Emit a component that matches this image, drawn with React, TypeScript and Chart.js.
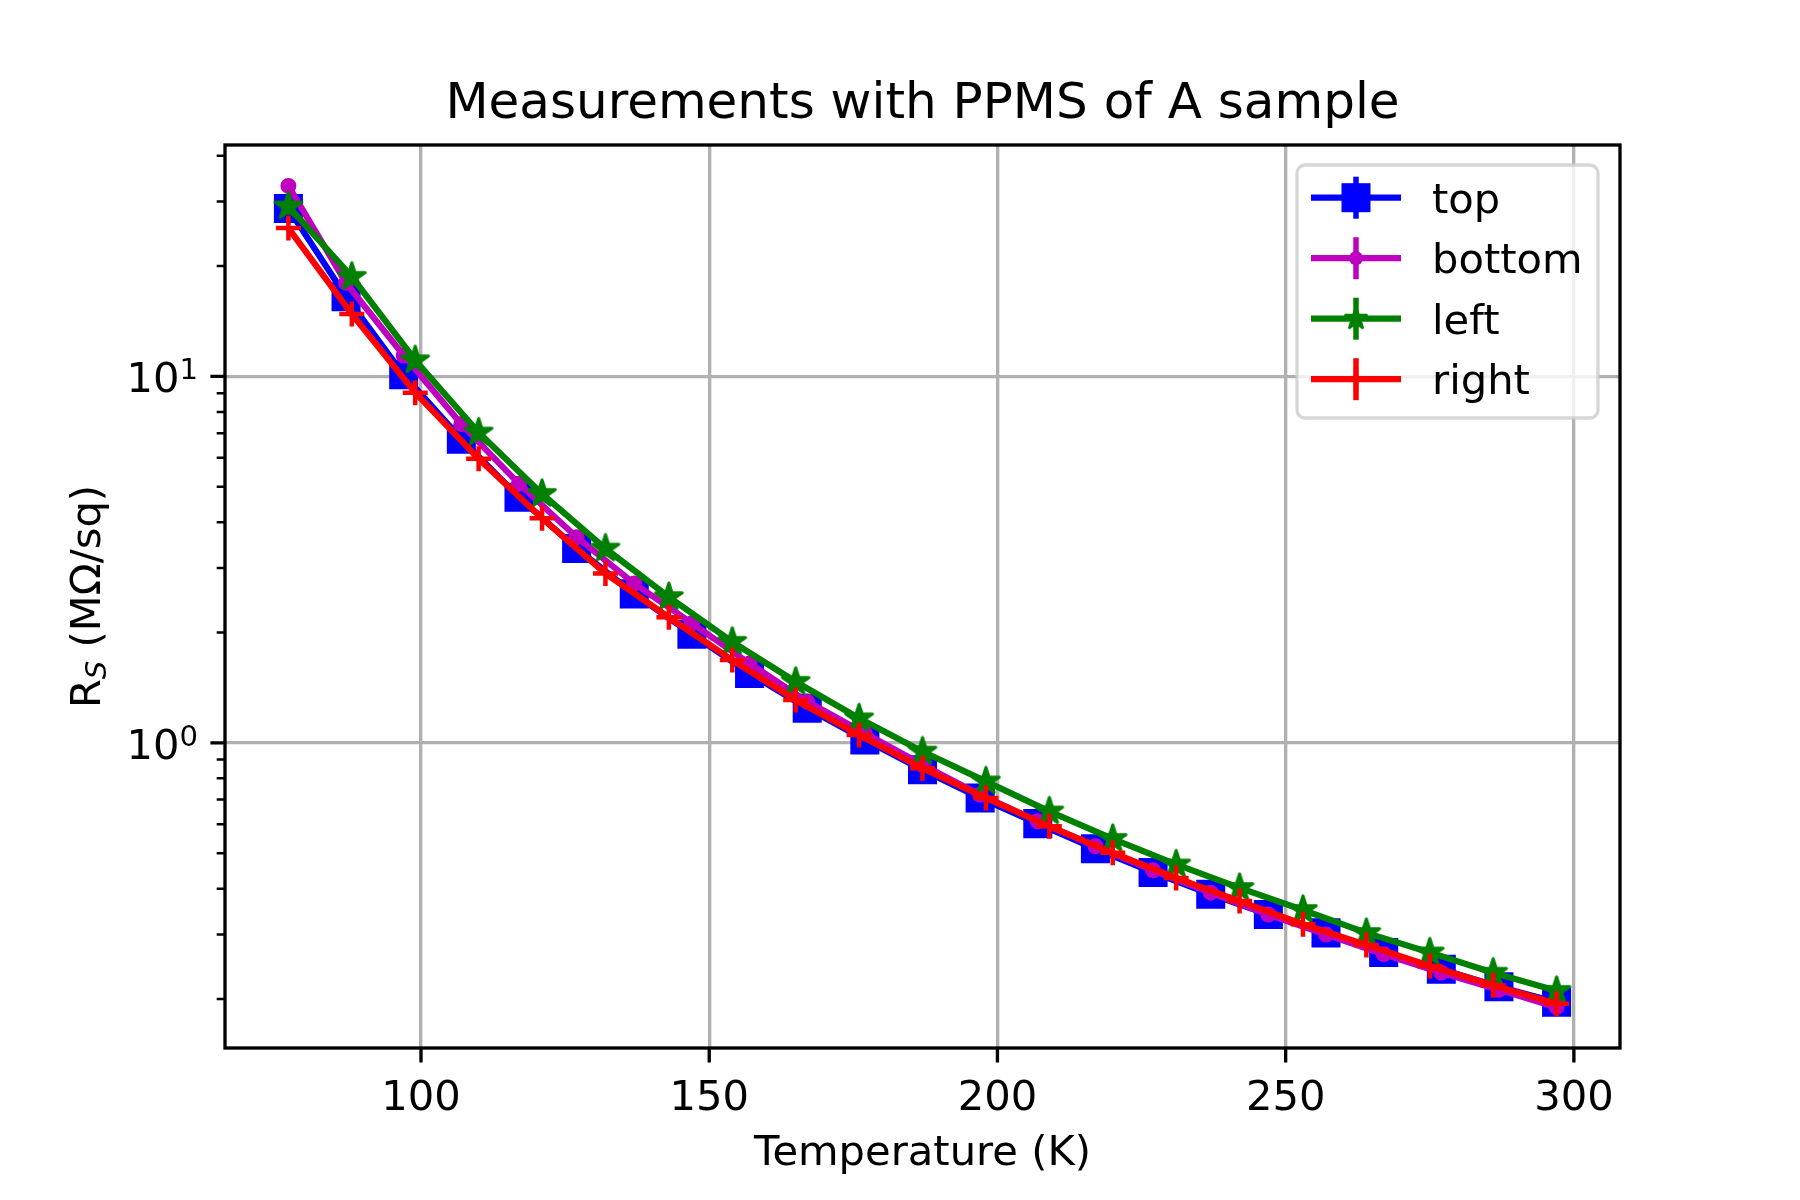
import React, { useEffect, useRef } from 'react';
import { Chart, registerables } from 'chart.js';

Chart.register(...registerables);

// ---- data ----
const TEMP_TB = [77, 87, 97, 107, 117, 127, 137, 147, 157, 167, 177, 187, 197, 207, 217, 227, 237, 247, 257, 267, 277, 287, 297];
const R_TOP = [28.7, 16.5, 10.1, 6.74, 4.68, 3.39, 2.55, 1.98, 1.547, 1.243, 1.019, 0.844, 0.707, 0.602, 0.514, 0.443, 0.386, 0.340, 0.303, 0.268, 0.241, 0.216, 0.196];
const R_BOTTOM = [33.1, 18.0, 11.4, 7.41, 5.09, 3.64, 2.72, 2.12, 1.647, 1.296, 1.063, 0.871, 0.722, 0.611, 0.522, 0.449, 0.390, 0.340, 0.300, 0.265, 0.236, 0.212, 0.190];
const TEMP_LR = [77, 88, 99, 110, 121, 132, 143, 154, 165, 176, 187, 198, 209, 220, 231, 242, 253, 264, 275, 286, 297];
const R_LEFT = [29.1, 18.7, 11.07, 7.03, 4.78, 3.39, 2.50, 1.887, 1.468, 1.167, 0.947, 0.785, 0.650, 0.547, 0.466, 0.402, 0.350, 0.303, 0.268, 0.236, 0.2105];
const R_RIGHT = [25.4, 14.8, 9.03, 5.96, 4.10, 2.90, 2.20, 1.682, 1.309, 1.051, 0.853, 0.707, 0.592, 0.501, 0.428, 0.370, 0.320, 0.281, 0.246, 0.218, 0.194];

const SERIES_LABELS = ['top', 'bottom', 'left', 'right'];
const SERIES_COLORS = ['#0000ff', '#bf00bf', '#008000', '#ff0000'];

const X_TICKS = [100, 150, 200, 250, 300];
const Y_MAJOR = [1, 10];
const Y_MAJOR_EXP = ['0', '1'];
const Y_MINOR = [0.2, 0.3, 0.4, 0.5, 0.6, 0.7, 0.8, 0.9, 2, 3, 4, 5, 6, 7, 8, 9, 20, 30, 40];

const TITLE = 'Measurements with PPMS of A sample';
const X_TITLE = 'Temperature (K)';
const Y_TITLE_MAIN = 'R';
const Y_TITLE_SUB = 'S';
const Y_TITLE_REST = ' (MΩ/sq)';

const FONT = '"DejaVu Sans", "Liberation Sans", sans-serif';
const FS = 41.67;

function makeStar(color: string, R: number): HTMLCanvasElement {
  const size = Math.ceil(2 * R + 6);
  const c = document.createElement('canvas');
  c.width = size;
  c.height = size;
  const ctx = c.getContext('2d')!;
  const cx = size / 2;
  const cy = size / 2;
  const r2 = R * 0.381966;
  ctx.beginPath();
  for (let i = 0; i < 10; i++) {
    const ang = -Math.PI / 2 + (i * Math.PI) / 5;
    const rr = i % 2 === 0 ? R : r2;
    const px = cx + rr * Math.cos(ang);
    const py = cy + rr * Math.sin(ang);
    if (i === 0) ctx.moveTo(px, py);
    else ctx.lineTo(px, py);
  }
  ctx.closePath();
  ctx.fillStyle = color;
  ctx.fill();
  ctx.lineWidth = 3;
  ctx.lineJoin = 'round';
  ctx.strokeStyle = color;
  ctx.stroke();
  return c;
}

export default function App() {
  const ref = useRef<HTMLCanvasElement | null>(null);

  useEffect(() => {
    document.body.style.margin = '0';
    const canvas = ref.current;
    if (!canvas) return;

    const star = makeStar(SERIES_COLORS[2], 14);
    const legendStar = makeStar(SERIES_COLORS[2], 11);

    const decor = {
      id: 'decor',
      afterDraw(chart: any) {
        const ctx: CanvasRenderingContext2D = chart.ctx;
        const a = chart.chartArea;
        const xs = chart.scales.x;
        const ys = chart.scales.y;
        ctx.save();
        // tick marks
        ctx.strokeStyle = '#000';
        ctx.lineWidth = 3.33;
        ctx.beginPath();
        for (const v of X_TICKS) {
          const px = xs.getPixelForValue(v);
          ctx.moveTo(px, a.bottom);
          ctx.lineTo(px, a.bottom + 14.6);
        }
        for (const v of Y_MAJOR) {
          const py = ys.getPixelForValue(v);
          ctx.moveTo(a.left, py);
          ctx.lineTo(a.left - 14.6, py);
        }
        ctx.stroke();
        ctx.lineWidth = 2.5;
        ctx.beginPath();
        for (const v of Y_MINOR) {
          const py = ys.getPixelForValue(v);
          ctx.moveTo(a.left, py);
          ctx.lineTo(a.left - 8.3, py);
        }
        ctx.stroke();
        // frame
        ctx.lineWidth = 3.33;
        ctx.strokeRect(a.left, a.top, a.right - a.left, a.bottom - a.top);

        // y tick labels 10^n
        ctx.fillStyle = '#000';
        ctx.textAlign = 'left';
        ctx.textBaseline = 'alphabetic';
        const mainF = `${FS}px ${FONT}`;
        const supF = `${FS * 0.7}px ${FONT}`;
        Y_MAJOR.forEach((v, i) => {
          const py = ys.getPixelForValue(v);
          ctx.font = mainF;
          const wMain = ctx.measureText('10').width;
          ctx.font = supF;
          const wSup = ctx.measureText(Y_MAJOR_EXP[i]).width;
          const right = a.left - 27;
          ctx.font = mainF;
          ctx.fillText('10', right - wSup - wMain, py + 16);
          ctx.font = supF;
          ctx.fillText(Y_MAJOR_EXP[i], right - wSup, py + 16 - 13);
        });

        // y axis title
        ctx.save();
        const cy = (a.top + a.bottom) / 2;
        ctx.translate(100, cy);
        ctx.rotate(-Math.PI / 2);
        const subF = `italic ${FS * 0.7}px ${FONT}`;
        ctx.font = mainF;
        const wR = ctx.measureText(Y_TITLE_MAIN).width;
        const wRest = ctx.measureText(Y_TITLE_REST).width;
        ctx.font = subF;
        const wS = ctx.measureText(Y_TITLE_SUB).width;
        let x = -(wR + wS + wRest) / 2;
        ctx.font = mainF;
        ctx.fillText(Y_TITLE_MAIN, x, 0);
        x += wR;
        ctx.font = subF;
        ctx.fillText(Y_TITLE_SUB, x, 6);
        x += wS;
        ctx.font = mainF;
        ctx.fillText(Y_TITLE_REST, x, 0);
        ctx.restore();

        // legend
        const bx = a.right - 22;
        const by = a.top + 20;
        const bw = 301;
        const bh = 253;
        ctx.beginPath();
        (ctx as any).roundRect(bx - bw, by, bw, bh, 8);
        ctx.fillStyle = 'rgba(255,255,255,0.8)';
        ctx.fill();
        ctx.lineWidth = 3.3;
        ctx.strokeStyle = 'rgba(204,204,204,0.8)';
        ctx.stroke();
        const hx0 = bx - bw + 14;
        const hx1 = hx0 + 90;
        const hxc = (hx0 + hx1) / 2;
        SERIES_LABELS.forEach((lab, i) => {
          const ey = by + 32.7 + i * 60.5;
          const col = SERIES_COLORS[i];
          ctx.strokeStyle = col;
          ctx.fillStyle = col;
          ctx.lineWidth = 6.25;
          ctx.lineCap = 'butt';
          ctx.beginPath();
          ctx.moveTo(hx0, ey);
          ctx.lineTo(hx1, ey);
          ctx.stroke();
          ctx.lineWidth = 5.5;
          ctx.beginPath();
          ctx.moveTo(hxc, ey - 21);
          ctx.lineTo(hxc, ey + 21);
          ctx.stroke();
          if (i === 0) {
            ctx.fillRect(hxc - 14.5, ey - 14.5, 29, 29);
          } else if (i === 1) {
            ctx.beginPath();
            ctx.arc(hxc, ey, 7, 0, Math.PI * 2);
            ctx.fill();
          } else if (i === 2) {
            ctx.drawImage(legendStar, hxc - legendStar.width / 2, ey - legendStar.height / 2);
          } else {
            ctx.lineWidth = 4.5;
            ctx.beginPath();
            ctx.moveTo(hxc - 12.5, ey);
            ctx.lineTo(hxc + 12.5, ey);
            ctx.moveTo(hxc, ey - 12.5);
            ctx.lineTo(hxc, ey + 12.5);
            ctx.stroke();
          }
          ctx.fillStyle = '#000';
          ctx.font = mainF;
          ctx.textAlign = 'left';
          ctx.fillText(lab, hx1 + 31, ey + 15);
        });
        ctx.restore();
      },
    };

    const mk = (xs: number[], ys: number[]) => xs.map((t, i) => ({ x: t, y: ys[i] }));

    const chart = new Chart(canvas, {
      type: 'line',
      data: {
        datasets: [
          {
            label: SERIES_LABELS[0],
            data: mk(TEMP_TB, R_TOP),
            borderColor: SERIES_COLORS[0],
            backgroundColor: SERIES_COLORS[0],
            borderWidth: 6.25,
            pointStyle: 'rect',
            pointRadius: 17.7,
            pointBorderWidth: 4,
            pointBackgroundColor: SERIES_COLORS[0],
            pointBorderColor: SERIES_COLORS[0],
            tension: 0,
            order: 3,
          },
          {
            label: SERIES_LABELS[1],
            data: mk(TEMP_TB, R_BOTTOM),
            borderColor: SERIES_COLORS[1],
            backgroundColor: SERIES_COLORS[1],
            borderWidth: 6.25,
            pointStyle: 'circle',
            pointRadius: 7,
            pointBorderWidth: 2,
            pointBackgroundColor: SERIES_COLORS[1],
            pointBorderColor: SERIES_COLORS[1],
            tension: 0,
            order: 2,
          },
          {
            label: SERIES_LABELS[2],
            data: mk(TEMP_LR, R_LEFT),
            borderColor: SERIES_COLORS[2],
            backgroundColor: SERIES_COLORS[2],
            borderWidth: 6.25,
            pointStyle: star as any,
            pointRadius: 12,
            tension: 0,
            order: 1,
          },
          {
            label: SERIES_LABELS[3],
            data: mk(TEMP_LR, R_RIGHT),
            borderColor: SERIES_COLORS[3],
            backgroundColor: SERIES_COLORS[3],
            borderWidth: 6.25,
            pointStyle: 'cross',
            pointRadius: 12.5,
            pointBorderWidth: 4.5,
            pointBorderColor: SERIES_COLORS[3],
            tension: 0,
            order: 0,
          },
        ],
      },
      options: {
        responsive: false,
        animation: false,
        devicePixelRatio: 1,
        events: [],
        layout: { padding: { left: 0, right: 180, top: 0, bottom: 0 } },
        plugins: {
          legend: { display: false },
          tooltip: { enabled: false },
          title: {
            display: true,
            fullSize: false,
            text: TITLE,
            color: '#000',
            font: { family: FONT, size: 50, weight: 'normal', lineHeight: 1.2 },
            padding: { top: 75.3, bottom: 9.7 },
          },
        },
        scales: {
          x: {
            type: 'linear',
            min: 66,
            max: 308,
            afterBuildTicks: (s: any) => {
              s.ticks = X_TICKS.map((v) => ({ value: v }));
            },
            afterFit: (s: any) => {
              s.height = 152;
            },
            ticks: {
              color: '#000',
              font: { family: FONT, size: FS },
              padding: 26.5,
              maxRotation: 0,
              autoSkip: false,
              callback: (v: any) => String(v),
            },
            grid: { color: '#b0b0b0', lineWidth: 3.33, drawTicks: false },
            border: { display: false },
            title: {
              display: true,
              text: X_TITLE,
              color: '#000',
              font: { family: FONT, size: FS, lineHeight: 1.2 },
              padding: { top: 0, bottom: 21 },
            },
          },
          y: {
            type: 'logarithmic',
            min: 0.147,
            max: 42.8,
            afterBuildTicks: (s: any) => {
              s.ticks = [...Y_MINOR, ...Y_MAJOR].sort((p, q) => p - q).map((v) => ({ value: v }));
            },
            afterFit: (s: any) => {
              s.width = 225;
            },
            ticks: { display: false },
            grid: {
              color: (c: any) => (c.tick && Y_MAJOR.includes(c.tick.value) ? '#b0b0b0' : 'rgba(0,0,0,0)'),
              lineWidth: 3.33,
              drawTicks: false,
            },
            border: { display: false },
          },
        },
      },
      plugins: [decor],
    });

    return () => {
      chart.destroy();
    };
  }, []);

  return (
    <div style={{ width: 1800, height: 1200, background: '#fff' }}>
      <canvas ref={ref} width={1800} height={1200} style={{ display: 'block', width: 1800, height: 1200 }} />
    </div>
  );
}
